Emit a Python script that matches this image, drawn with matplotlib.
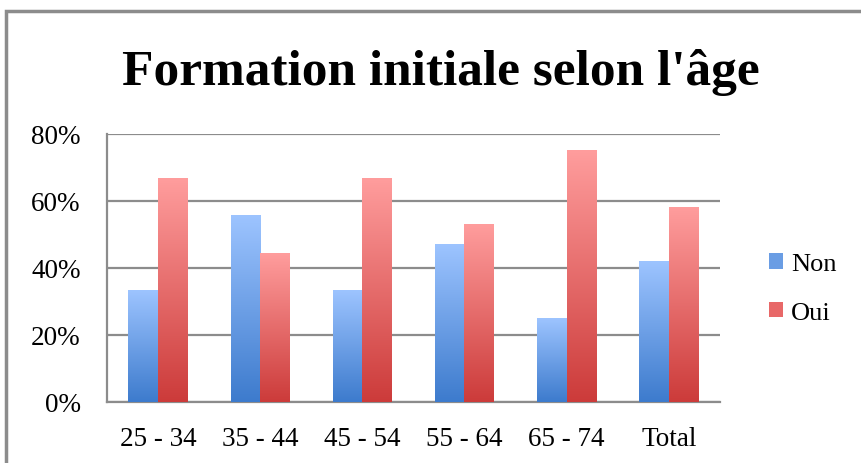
import numpy as np
import matplotlib.pyplot as plt
from matplotlib.patches import Rectangle
from matplotlib.colors import LinearSegmentedColormap

# Data
categories = ["25 - 34", "35 - 44", "45 - 54", "55 - 64", "65 - 74", "Total"]
non = [33.3, 55.6, 33.3, 47.1, 25.0, 41.9]
oui = [66.7, 44.4, 66.7, 52.9, 75.0, 58.1]
series_names = ["Non", "Oui"]
yticks = [0, 20, 40, 60, 80]

plt.rcParams["font.family"] = ["Liberation Serif", "DejaVu Serif"]

fig = plt.figure(figsize=(8.61, 4.64), dpi=100)
ax = fig.add_axes([0.1243, 0.1315, 0.7117, 0.5776])

# grey frame around the chart (cut off at right/bottom like the screenshot)
fig.patches.append(Rectangle((6 / 861, -0.05), 1.2, 1 - 12 / 464 + 0.05,
                             transform=fig.transFigure, fill=False,
                             edgecolor="#8c8c8c", linewidth=2.5, zorder=0))

blue_cmap = LinearSegmentedColormap.from_list("b", ["#3d7bcd", "#9dc4ff"])
red_cmap = LinearSegmentedColormap.from_list("r", ["#cc3b3a", "#ff9d9d"])

x = np.arange(len(categories))
w = 0.29
bars_non = ax.bar(x - w / 2, non, w, color="#6a9de4", label="Non", zorder=3)
bars_oui = ax.bar(x + w / 2, oui, w, color="#e86868", label="Oui", zorder=3)

# vertical gradient fill for each bar
grad = np.linspace(0, 1, 256).reshape(-1, 1)
for bars, cmap in [(bars_non, blue_cmap), (bars_oui, red_cmap)]:
    for b in bars:
        x0, y0 = b.get_x(), b.get_y()
        ax.imshow(grad, cmap=cmap, origin="lower", aspect="auto",
                  extent=[x0, x0 + b.get_width(), y0, y0 + b.get_height()],
                  zorder=3)
        b.set_alpha(0)

ax.set_xlim(-0.5, len(categories) - 0.5)
ax.set_ylim(0, 80)
ax.set_yticks(yticks)
ax.set_yticklabels([f"{v}%" for v in yticks])
ax.set_xticks(x)
ax.set_xticklabels(categories)
ax.tick_params(axis="both", length=0, labelsize=19.5)
ax.tick_params(axis="x", pad=17)
ax.tick_params(axis="y", pad=19)

ax.grid(axis="y", color="#8c8c8c", linewidth=1.6, zorder=1)
for side in ["top", "right"]:
    ax.spines[side].set_visible(False)
for side in ["left", "bottom"]:
    ax.spines[side].set_color("#8c8c8c")
    ax.spines[side].set_linewidth(1.6)

fig.text(0.512, 0.843, "Formation initiale selon l'âge", ha="center",
         va="center", fontsize=37, fontweight="bold")

handles = [Rectangle((0, 0), 1, 1, facecolor="#6a9de4"),
           Rectangle((0, 0), 1, 1, facecolor="#e86868")]
fig.legend(handles, series_names, loc="center left",
           bbox_to_anchor=(0.866, 0.376), frameon=False, fontsize=19,
           handlelength=0.53, handleheight=0.53, handletextpad=0.3,
           labelspacing=1.0)

fig.savefig("out.png", dpi=100)
